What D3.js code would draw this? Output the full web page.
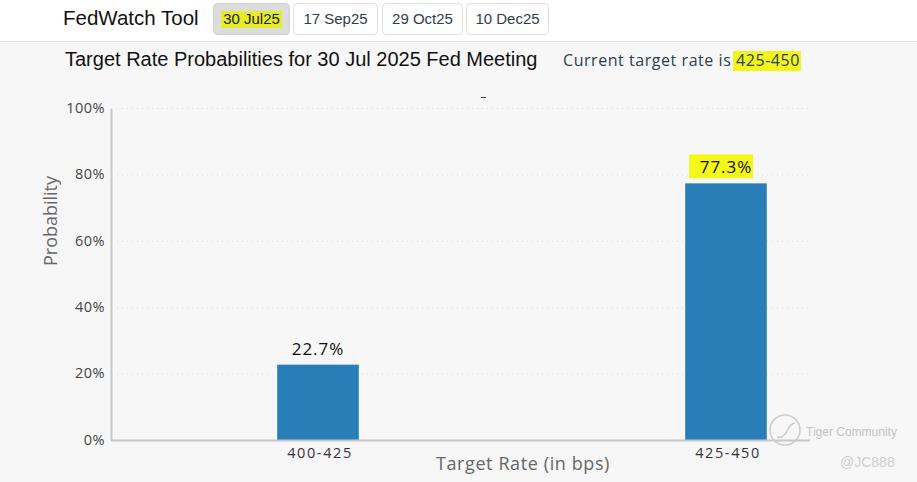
<!DOCTYPE html>
<html>
<head>
<meta charset="utf-8">
<script src="https://cdn.jsdelivr.net/npm/d3@7"></script>
<style>
  body { margin: 0; background: #fff; }
  svg { display: block; }
</style>
</head>
<body>
<div id="chart"></div>
<script>
var meetings = ['30 Jul25', '17 Sep25', '29 Oct25', '10 Dec25'];
var targetRates = ['400-425', '425-450'];
var probabilities = [22.7, 77.3];
var yTicks = [0, 20, 40, 60, 80, 100];
var currentRate = '425-450';

var W = 917, H = 482;
var svg = d3.select('#chart').append('svg')
  .attr('width', W)
  .attr('height', H);

// page background
svg.append('rect').attr('width', W).attr('height', H).attr('fill', '#f7f7f7');
svg.append('rect').attr('width', W).attr('height', 41).attr('fill', '#fff');
svg.append('line').attr('x1', 0).attr('x2', W).attr('y1', 41.5).attr('y2', 41.5)
  .attr('stroke', '#e2e2e2');

svg.append('text')
  .attr('x', 63).attr('y', 25)
  .attr('font-family', 'Liberation Sans, Arial, sans-serif')
  .attr('font-size', 20.5).attr('fill', '#111')
  .text('FedWatch Tool');

// meeting buttons
var btnX = [213, 293, 382, 466];
var btnW = [76, 84, 80, 82];
var btns = svg.append('g').selectAll('g')
  .data(meetings)
  .enter().append('g')
  .attr('transform', function(d, i) { return 'translate(' + btnX[i] + ',3)'; });

btns.append('rect')
  .attr('x', 0.5).attr('y', 0.5)
  .attr('width', function(d, i) { return btnW[i]; })
  .attr('height', 31).attr('rx', 4)
  .attr('fill', function(d, i) { return i === 0 ? '#dcdcdc' : '#fff'; })
  .attr('stroke', function(d, i) { return i === 0 ? '#d0d0d0' : '#dedede'; });

btns.filter(function(d, i) { return i === 0; })
  .append('rect')
  .attr('x', 8).attr('y', 8).attr('width', 61).attr('height', 17)
  .attr('fill', '#e6ec2a');

btns.append('text')
  .attr('x', function(d, i) { return btnW[i] / 2 + 0.5; })
  .attr('y', 21)
  .attr('text-anchor', 'middle')
  .attr('font-family', 'Liberation Sans, Arial, sans-serif')
  .attr('font-size', 15)
  .attr('fill', function(d, i) { return i === 0 ? '#222' : '#2f3d4a'; })
  .text(function(d) { return d; });

// titles
svg.append('text')
  .attr('x', 65).attr('y', 66)
  .attr('font-family', 'Liberation Sans, Arial, sans-serif')
  .attr('font-size', 20).attr('fill', '#111')
  .text('Target Rate Probabilities for 30 Jul 2025 Fed Meeting');

var rateHi = svg.append('rect').attr('y', 51).attr('height', 20).attr('fill', '#f2f51c');
var prefix = 'Current target rate is ';
var rateText = svg.append('text')
  .attr('x', 563).attr('y', 66)
  .attr('font-family', 'Open Sans, sans-serif')
  .attr('font-size', 16).attr('fill', '#2c3e50')
  .style('letter-spacing', '0.55px')
  .text(prefix + currentRate);
var hiStart = rateText.node().getStartPositionOfChar(prefix.length).x;
var hiEnd = rateText.node().getEndPositionOfChar(prefix.length + currentRate.length - 1).x;
rateHi.attr('x', hiStart - 3).attr('width', hiEnd - hiStart + 4);

// chart
var x0 = 111, xEnd = 810, yBottom = 440, yTop = 108;

var x = d3.scaleBand()
  .domain(targetRates)
  .range([114, 930])
  .paddingInner(0.8)
  .paddingOuter(0.4);

var y = d3.scaleLinear().domain([0, 100]).range([yBottom, yTop]);

// gridlines
svg.append('g')
  .selectAll('line')
  .data(yTicks.filter(function(d) { return d > 0; }))
  .enter().append('line')
  .attr('x1', x0 + 6).attr('x2', xEnd)
  .attr('y1', function(d) { return y(d) + 0.5; })
  .attr('y2', function(d) { return y(d) + 0.5; })
  .attr('stroke', '#dcdcdc')
  .attr('stroke-dasharray', '1,4');

// small stray mark above the plot
svg.append('line')
  .attr('x1', 481).attr('x2', 486).attr('y1', 97.5).attr('y2', 97.5)
  .attr('stroke', '#444');

// y axis
var yAxis = svg.append('g')
  .attr('transform', 'translate(' + x0 + ',0)')
  .call(d3.axisLeft(y).tickValues(yTicks).tickSize(0).tickPadding(6)
    .tickFormat(function(d) { return d + '%'; }));
yAxis.select('.domain').attr('stroke', '#c8c8c8').attr('stroke-width', 2);
yAxis.selectAll('text')
  .attr('font-family', 'Open Sans, sans-serif')
  .attr('font-size', 14.5).attr('fill', '#444')
  .style('letter-spacing', '0.5px')
  .attr('dy', '0.3em');

// bars
svg.append('g').selectAll('rect')
  .data(probabilities)
  .enter().append('rect')
  .attr('x', function(d, i) { return x(targetRates[i]); })
  .attr('y', function(d) { return y(d); })
  .attr('width', x.bandwidth())
  .attr('height', function(d) { return y(0) - y(d); })
  .attr('fill', '#2a7eb8');

// x axis line
svg.append('line')
  .attr('x1', x0).attr('x2', xEnd)
  .attr('y1', yBottom + 0.5).attr('y2', yBottom + 0.5)
  .attr('stroke', '#c8c8c8').attr('stroke-width', 2);

// x tick labels
svg.append('g').selectAll('text')
  .data(targetRates)
  .enter().append('text')
  .attr('x', function(d) { return x(d) + x.bandwidth() / 2 + 2; })
  .attr('y', 458)
  .attr('text-anchor', 'middle')
  .attr('font-family', 'Open Sans, sans-serif')
  .attr('font-size', 14.5).attr('fill', '#333')
  .style('letter-spacing', '1.6px')
  .text(function(d) { return d; });

// highlight behind the current-rate label
var hiIdx = targetRates.indexOf(currentRate);
svg.append('rect')
  .attr('x', x(currentRate) + 4)
  .attr('y', y(probabilities[hiIdx]) - 29)
  .attr('width', 64).attr('height', 24)
  .attr('fill', '#f4f71a');

// value labels
svg.append('g').selectAll('text')
  .data(probabilities)
  .enter().append('text')
  .attr('x', function(d, i) { return x(targetRates[i]) + x.bandwidth() / 2; })
  .attr('y', function(d) { return y(d) - 10; })
  .attr('text-anchor', 'middle')
  .attr('font-family', 'Open Sans, sans-serif')
  .attr('font-size', 17).attr('fill', '#111')
  .style('letter-spacing', '1px')
  .text(function(d) { return d.toFixed(1) + '%'; });

// axis titles
svg.append('text')
  .attr('x', 523).attr('y', 470)
  .attr('text-anchor', 'middle')
  .attr('font-family', 'Open Sans, sans-serif')
  .attr('font-size', 18).attr('fill', '#666')
  .style('letter-spacing', '0.6px')
  .text('Target Rate (in bps)');

svg.append('text')
  .attr('transform', 'translate(57,221) rotate(-90)')
  .attr('text-anchor', 'middle')
  .attr('font-family', 'Open Sans, sans-serif')
  .attr('font-size', 18).attr('fill', '#666')
  .text('Probability');

// watermark
svg.append('circle').attr('cx', 785).attr('cy', 430).attr('r', 15)
  .attr('fill', 'none').attr('stroke', '#ccc').attr('stroke-width', 1.5);
svg.append('path')
  .attr('d', 'M777,437 q6,2 10,-6 q4,-8 8,-8')
  .attr('fill', 'none').attr('stroke', '#ccc').attr('stroke-width', 1.5);
svg.append('text')
  .attr('x', 806).attr('y', 436)
  .attr('font-family', 'Liberation Sans, Arial, sans-serif')
  .attr('font-size', 12).attr('fill', '#c4c4c4')
  .text('Tiger Community');
svg.append('text')
  .attr('x', 840).attr('y', 467)
  .attr('font-family', 'Liberation Sans, Arial, sans-serif')
  .attr('font-size', 14).attr('fill', '#cfcfcf')
  .text('@JC888');
</script>
</body>
</html>
